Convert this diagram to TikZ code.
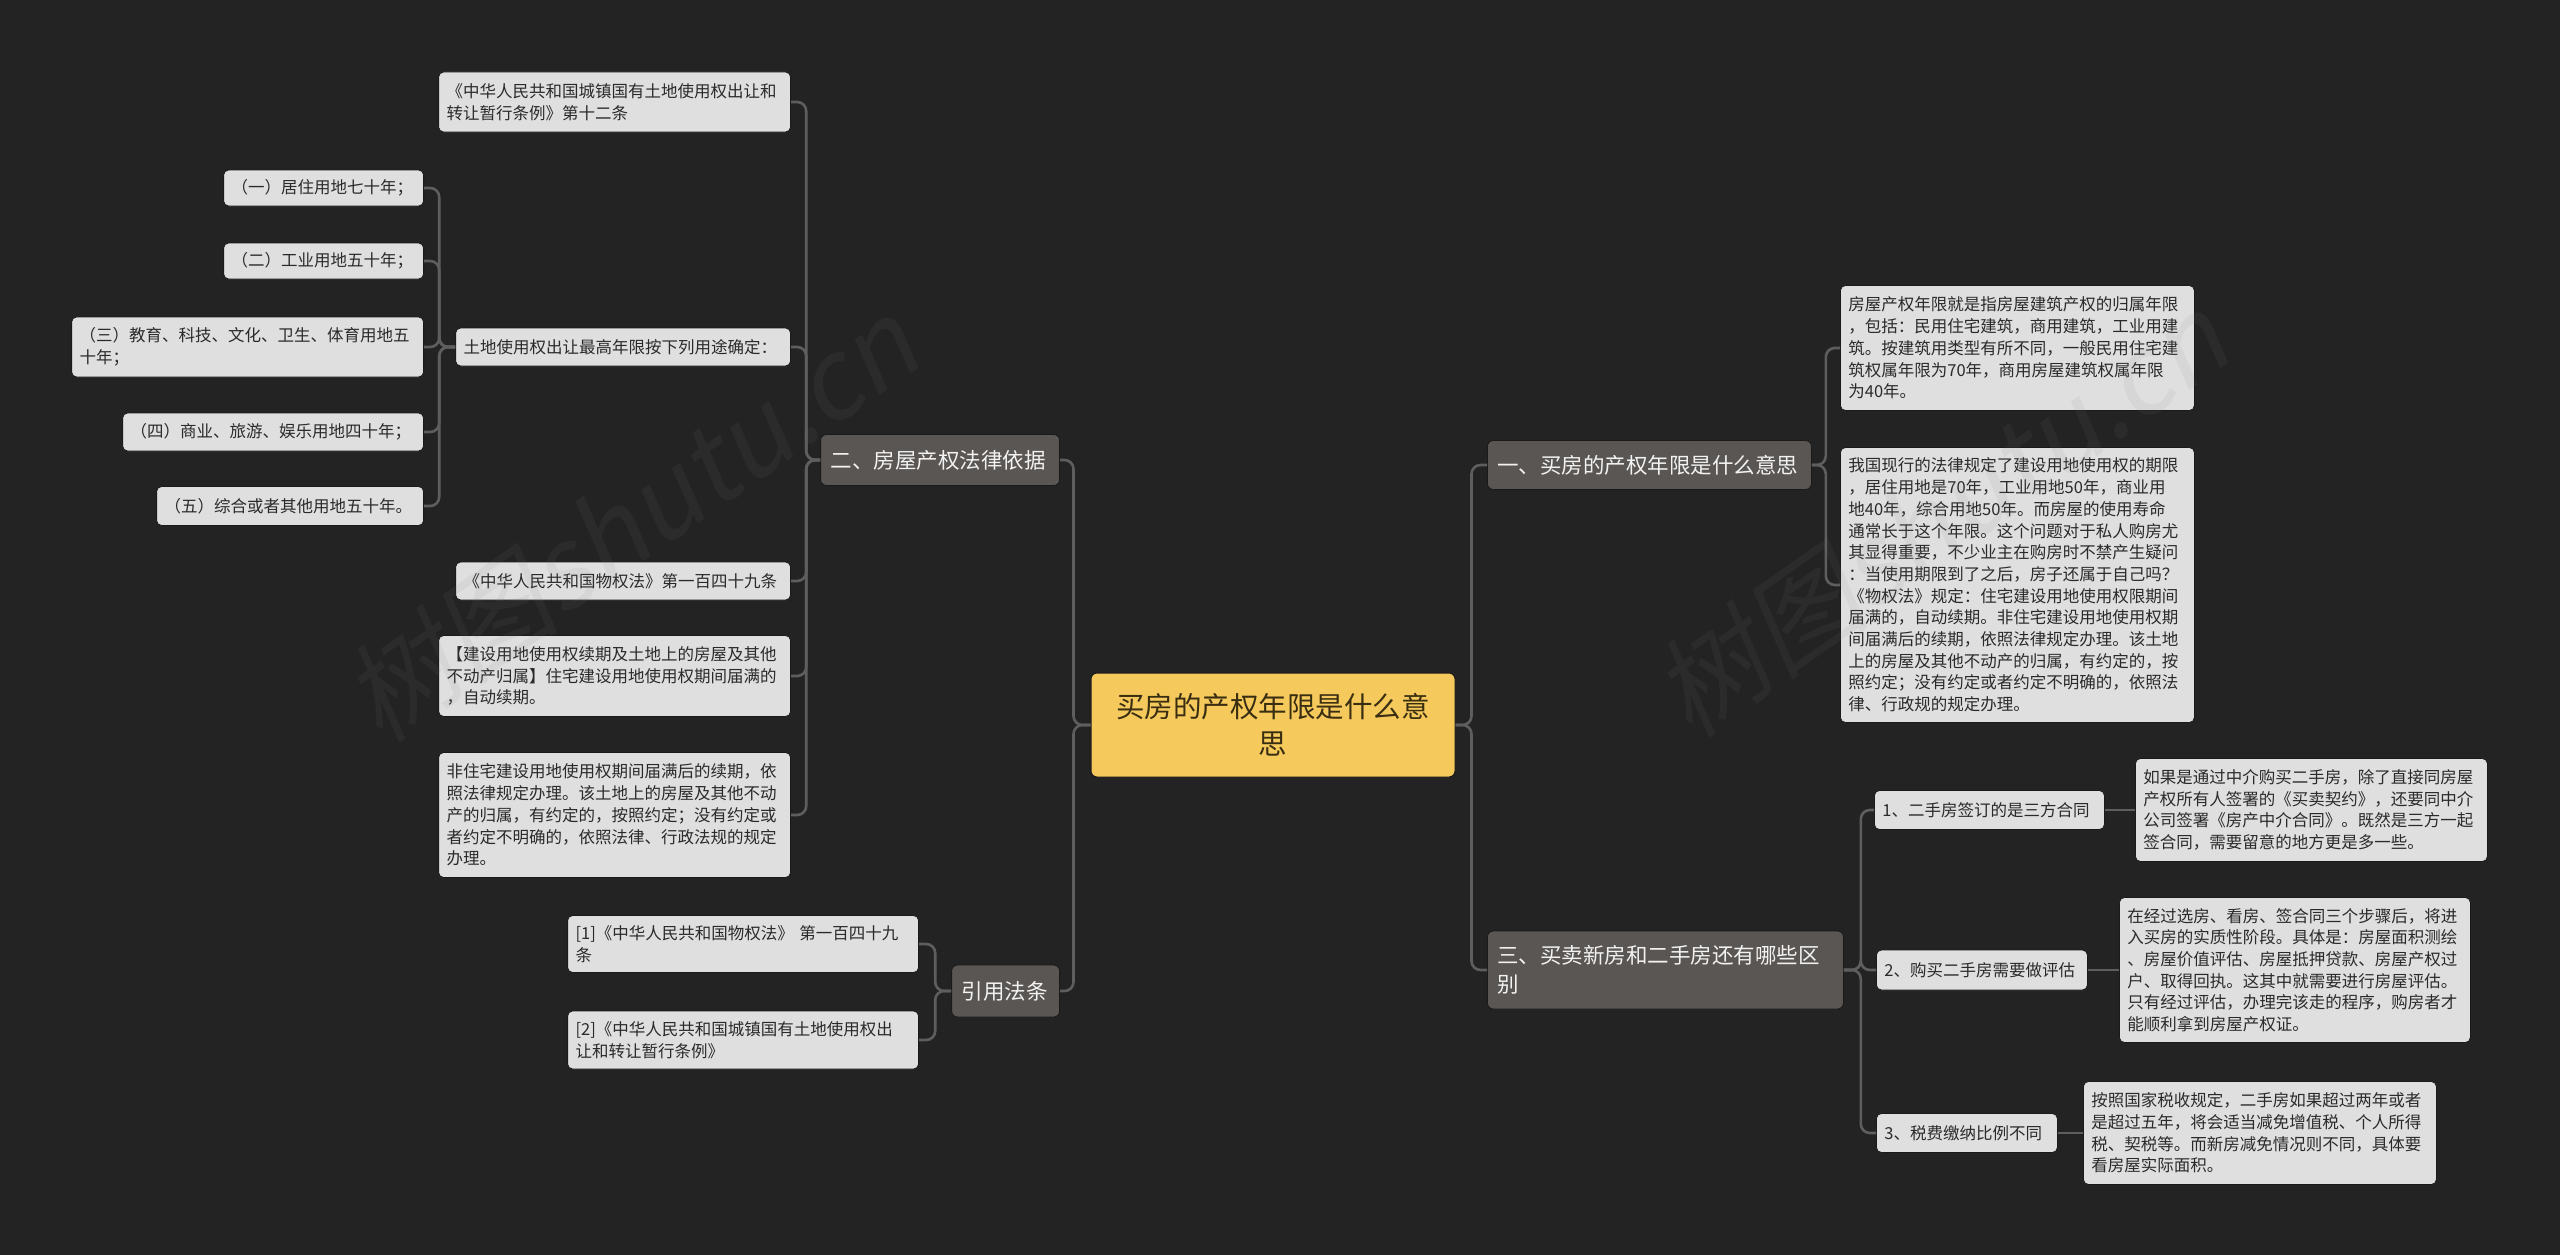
\documentclass[tikz,border=0pt]{standalone}
\usepackage{fontspec}
\setmainfont{Noto Sans CJK SC}
\newfontfamily\wmfont{Noto Sans CJK SC}[FakeSlant=0.2]
\definecolor{bgc}{HTML}{232323}
\definecolor{leafc}{HTML}{DFDFDF}
\definecolor{leaft}{HTML}{2A2A2A}
\definecolor{lvlc}{HTML}{5A5653}
\definecolor{lvlt}{HTML}{F2F2F2}
\definecolor{rootc}{HTML}{F5C95B}
\definecolor{roott}{HTML}{3A2E12}
\definecolor{linec}{HTML}{5E5E5E}
\definecolor{edgec}{HTML}{1A1A1A}
\tikzset{
  leaf/.style={fill=leafc, text=leaft, draw=edgec, line width=0.8pt, rounded corners=5pt,
    inner xsep=8pt, inner ysep=2pt, align=left, font=\fontsize{16.5}{21.7}\selectfont},
  lvl/.style={fill=lvlc, text=lvlt, draw=edgec, line width=0.8pt, rounded corners=6pt,
    inner xsep=10pt, inner ysep=2pt, align=left, font=\fontsize{21.5}{29}\selectfont},
  rootbox/.style={fill=rootc, text=roott, draw=edgec, line width=1pt, rounded corners=6pt,
    inner xsep=20pt, inner ysep=2pt, align=center, font=\fontsize{28.5}{37}\selectfont},
  conn/.style={draw=linec, line width=2.6pt, rounded corners=9pt},
  wm/.style={rotate=35, text=gray, opacity=0.09, inner sep=0pt, font=\wmfont\fontsize{110}{110}\selectfont}
}
\begin{document}
\begin{tikzpicture}[x=1pt,y=-1pt]
\fill[bgc] (0,0) rectangle (2560,1255);
\useasboundingbox (0,0) rectangle (2560,1255);

% root
\node[rootbox, text width=324pt, minimum height=104pt] (root) at (1273,725) {买房的产权年限是什么意\\思};

% level 1
\node[lvl, anchor=west, text width=304pt, minimum height=49pt] (n1) at (1487,465) {一、买房的产权年限是什么意思};
\node[lvl, anchor=west, text width=336pt, minimum height=78pt] (n3) at (1487,970) {三、买卖新房和二手房还有哪些区\\别};
\node[lvl, anchor=east, text width=219pt, minimum height=51pt] (n2) at (1060,460) {二、房屋产权法律依据};
\node[lvl, anchor=east, text width=88pt, minimum height=52pt] (n4) at (1060,991) {引用法条};

% children of n2
\node[leaf, anchor=east, text width=336pt, minimum height=60pt] (a1) at (791,102) {《中华人民共和国城镇国有土地使用权出让和\\转让暂行条例》第十二条};
\node[leaf, anchor=east, text width=319pt, minimum height=38pt] (a2) at (791,347) {土地使用权出让最高年限按下列用途确定：};
\node[leaf, anchor=east, text width=319pt, minimum height=38pt] (a3) at (791,581) {《中华人民共和国物权法》第一百四十九条};
\node[leaf, anchor=east, text width=336pt, minimum height=81pt] (a4) at (791,676) {【建设用地使用权续期及土地上的房屋及其他\\不动产归属】住宅建设用地使用权期间届满的\\，自动续期。};
\node[leaf, anchor=east, text width=336pt, minimum height=125pt] (a5) at (791,815) {非住宅建设用地使用权期间届满后的续期，依\\照法律规定办理。该土地上的房屋及其他不动\\产的归属，有约定的，按照约定；没有约定或\\者约定不明确的，依照法律、行政法规的规定\\办理。};

% children of a2
\node[leaf, anchor=east, text width=184pt, minimum height=36pt] (b1) at (424,188) {（一）居住用地七十年；};
\node[leaf, anchor=east, text width=184pt, minimum height=36pt] (b2) at (424,261) {（二）工业用地五十年；};
\node[leaf, anchor=east, text width=336pt, minimum height=60pt] (b3) at (424,347) {（三）教育、科技、文化、卫生、体育用地五\\十年；};
\node[leaf, anchor=east, text width=285pt, minimum height=38pt] (b4) at (424,432) {（四）商业、旅游、娱乐用地四十年；};
\node[leaf, anchor=east, text width=251pt, minimum height=39pt] (b5) at (424,506) {（五）综合或者其他用地五十年。};

% children of n4
\node[leaf, anchor=east, text width=335pt, minimum height=57pt] (c1) at (919,944) {[1]《中华人民共和国物权法》 第一百四十九\\条};
\node[leaf, anchor=east, text width=335pt, minimum height=58pt] (c2) at (919,1040) {[2]《中华人民共和国城镇国有土地使用权出\\让和转让暂行条例》};

% children of n1
\node[leaf, anchor=west, text width=338pt, minimum height=125pt] (d1) at (1840,348) {房屋产权年限就是指房屋建筑产权的归属年限\\，包括：民用住宅建筑，商用建筑，工业用建\\筑。按建筑用类型有所不同，一般民用住宅建\\筑权属年限为70年，商用房屋建筑权属年限\\为40年。};
\node[leaf, anchor=west, text width=338pt, minimum height=275pt] (d2) at (1840,585) {我国现行的法律规定了建设用地使用权的期限\\，居住用地是70年，工业用地50年，商业用\\地40年，综合用地50年。而房屋的使用寿命\\通常长于这个年限。这个问题对于私人购房尤\\其显得重要，不少业主在购房时不禁产生疑问\\：当使用期限到了之后，房子还属于自己吗？\\《物权法》规定：住宅建设用地使用权限期间\\届满的，自动续期。非住宅建设用地使用权期\\间届满后的续期，依照法律规定办理。该土地\\上的房屋及其他不动产的归属，有约定的，按\\照约定；没有约定或者约定不明确的，依照法\\律、行政规的规定办理。};

% children of n3
\node[leaf, anchor=west, text width=214pt, minimum height=39pt] (e1) at (1874,810) {1、二手房签订的是三方合同};
\node[leaf, anchor=west, text width=195pt, minimum height=40pt] (e2) at (1876,970) {2、购买二手房需要做评估};
\node[leaf, anchor=west, text width=165pt, minimum height=39pt] (e3) at (1876,1133) {3、税费缴纳比例不同};

\node[leaf, anchor=west, text width=336pt, minimum height=103pt] (f1) at (2135,810) {如果是通过中介购买二手房，除了直接同房屋\\产权所有人签署的《买卖契约》，还要同中介\\公司签署《房产中介合同》。既然是三方一起\\签合同，需要留意的地方更是多一些。};
\node[leaf, anchor=west, text width=335pt, minimum height=145pt] (f2) at (2119,970) {在经过选房、看房、签合同三个步骤后，将进\\入买房的实质性阶段。具体是：房屋面积测绘\\、房屋价值评估、房屋抵押贷款、房屋产权过\\户、取得回执。这其中就需要进行房屋评估。\\只有经过评估，办理完该走的程序，购房者才\\能顺利拿到房屋产权证。};
\node[leaf, anchor=west, text width=337pt, minimum height=103pt] (f3) at (2083,1133) {按照国家税收规定，二手房如果超过两年或者\\是超过五年，将会适当减免增值税、个人所得\\税、契税等。而新房减免情况则不同，具体要\\看房屋实际面积。};

% connectors
\foreach \c in {n1,n3} \draw[conn] (root.east) -- ++(16,0) |- (\c.west);
\foreach \c in {n2,n4} \draw[conn] (root.west) -- ++(-17,0) |- (\c.east);
\foreach \c in {a1,a2,a3,a4,a5} \draw[conn] (n2.west) -- ++(-14,0) |- (\c.east);
\foreach \c in {b1,b2,b3,b4,b5} \draw[conn] (a2.west) -- ++(-16,0) |- (\c.east);
\foreach \c in {c1,c2} \draw[conn] (n4.west) -- ++(-16,0) |- (\c.east);
\foreach \c in {d1,d2} \draw[conn] (n1.east) -- ++(14,0) |- (\c.west);
\foreach \c in {e1,e2,e3} \draw[conn] (n3.east) -- ++(17,0) |- (\c.west);
\draw[conn] (e1.east) -- (e1.east -| f1.west);
\draw[conn] (e2.east) -- (e2.east -| f2.west);
\draw[conn] (e3.east) -- (e3.east -| f3.west);

% watermarks
\node[wm] (wm1) at (630,520) {树图shutu.cn};
\node[wm] (wm2) at (1940,515) {树图shutu.cn};
\end{tikzpicture}
\end{document}
